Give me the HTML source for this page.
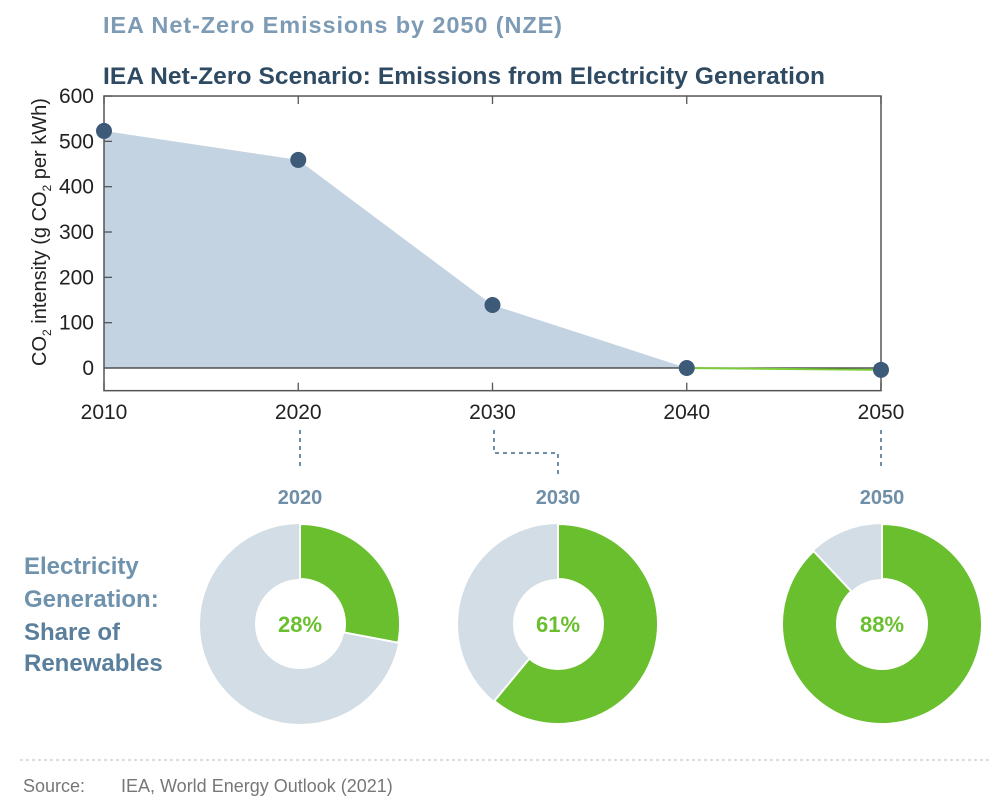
<!DOCTYPE html>
<html><head><meta charset="utf-8"><style>
body{margin:0;background:#fff;width:1001px;height:801px;overflow:hidden;font-family:"Liberation Sans",sans-serif}
</style></head><body>
<svg width="1001" height="801" viewBox="0 0 1001 801" xmlns="http://www.w3.org/2000/svg" id="svg">
<text x="103" y="33" font-size="23.5" font-weight="bold" fill="#7d9bb5" textLength="459">IEA Net-Zero Emissions by 2050 (NZE)</text>
<text x="103" y="84" font-size="24.5" font-weight="bold" fill="#2f4b63" textLength="722">IEA Net-Zero Scenario: Emissions from Electricity Generation</text>
<g id="chart"></g>
<g id="donuts"></g>
<g font-size="24" font-weight="bold" fill="#6f93ad">
<text x="24" y="574">Electricity</text>
<text x="24" y="607">Generation:</text>
<text x="24" y="640" fill="#5a7f9c">Share of</text>
<text x="24" y="671" fill="#5a7f9c">Renewables</text>
</g>
<line x1="20" y1="760" x2="990" y2="760" stroke="#bbb" stroke-dasharray="3,3"/>
<text x="23" y="792" font-size="18" fill="#777">Source:</text>
<text x="121" y="792" font-size="18" fill="#777">IEA, World Energy Outlook (2021)</text>
</svg>
<script>
const years=[2010,2020,2030,2040,2050];
const values=[523,459,139,0,-4];
const yTicks=[0,100,200,300,400,500,600];
const donutYears=["2020","2030","2050"];
const donutShares=[28,61,88];

const NS="http://www.w3.org/2000/svg";
function mk(tag,attrs,parent){const e=document.createElementNS(NS,tag);for(const k in attrs)e.setAttribute(k,attrs[k]);parent.appendChild(e);return e;}
const chart=document.getElementById('chart');
const X0=104,X1=881,Y0=368,PX=0.4533;
const xs=y=>X0+(y-2010)/40*(X1-X0);
const ys=v=>Y0-v*PX;
const yBottom=ys(-50),yTop=ys(600);
let pts=years.map((y,i)=>xs(y)+","+ys(Math.max(values[i],0)));
let area=mk('polygon',{points:[xs(2010)+","+Y0,...pts.slice(0,4),xs(2040)+","+Y0].join(" "),fill:"#c3d3e2"},chart);


let zl=mk('line',{x1:X0,x2:X1,y1:Y0,y2:Y0,stroke:"#333","stroke-width":1.3},chart);


let gl=mk('line',{x1:xs(2040),y1:ys(values[3]),x2:xs(2050),y2:ys(values[4]),stroke:"#7ccb3a","stroke-width":2},chart);


let fr=mk('rect',{x:X0,y:yTop,width:X1-X0,height:yBottom-yTop,fill:"none",stroke:"#555","stroke-width":1.5},chart);


yTicks.forEach(t=>{
  mk('line',{x1:X0,x2:X0+8,y1:ys(t),y2:ys(t),stroke:"#555","stroke-width":1.3},chart);
  let tx=mk('text',{x:X0-10,y:ys(t)+7,"text-anchor":"end","font-size":21,fill:"#222"},chart);
  tx.textContent=t;
  
  
});
years.forEach(y=>{
  mk('line',{x1:xs(y),x2:xs(y),y1:yTop,y2:yTop+8,stroke:"#555","stroke-width":1.3},chart);
  mk('line',{x1:xs(y),x2:xs(y),y1:yBottom,y2:yBottom-8,stroke:"#555","stroke-width":1.3},chart);
  let tx=mk('text',{x:xs(y),y:419,"text-anchor":"middle","font-size":21,fill:"#222"},chart);
  tx.textContent=y;
  
  
});
years.forEach((y,i)=>{
  let c=mk('circle',{cx:xs(y),cy:ys(values[i]),r:8,fill:"#3d5a78"},chart);
  
  
});
let yt=mk('text',{transform:"translate(46,232) rotate(-90)","text-anchor":"middle","font-size":20,fill:"#222"},chart);
yt.innerHTML='CO<tspan font-size="12" dy="5">2</tspan><tspan dy="-5"> intensity (g CO</tspan><tspan font-size="12" dy="5">2</tspan><tspan dy="-5"> per kWh)</tspan>';


const dn=document.getElementById('donuts');
const cxs=[300,558,882],CY=624,R=100,r=45;
const conn=["M300,430 V470","M494,430 V453 H558 V475","M881,430 V470"];
conn.forEach(d=>{let p=mk('path',{d:d,fill:"none",stroke:"#6f8fa8","stroke-width":2,"stroke-dasharray":"4,4"},dn);

});
function pt(cx,cy,rr,a){return [cx+rr*Math.sin(a),cy-rr*Math.cos(a)];}
donutShares.forEach((s,i)=>{
  const cx=cxs[i];
  let bg=mk('circle',{cx:cx,cy:CY,r:(R+r)/2,fill:"none",stroke:"#d2dde5","stroke-width":R-r},dn);
  
  
  const a=s/100*2*Math.PI,large=s>50?1:0;
  const [ox,oy]=pt(cx,CY,R,a),[ix,iy]=pt(cx,CY,r,a);
  let p=mk('path',{d:`M${cx},${CY-R} A${R},${R} 0 ${large} 1 ${ox},${oy} L${ix},${iy} A${r},${r} 0 ${large} 0 ${cx},${CY-r} Z`,fill:"#6abf2e",stroke:"#fff","stroke-width":2},dn);
  
  
  mk('line',{x1:cx,y1:CY-R,x2:cx,y2:CY-r,stroke:"#fff","stroke-width":2},dn);
  let t=mk('text',{x:cx,y:CY+8,"text-anchor":"middle","font-size":22,"font-weight":"bold",fill:"#6abf2e"},dn);
  t.textContent=s+"%";
  
  
  let yl=mk('text',{x:cx,y:504,"text-anchor":"middle","font-size":20,"font-weight":"bold",fill:"#6f8fa8"},dn);
  yl.textContent=donutYears[i];
  
  
});
</script>
</body></html>
